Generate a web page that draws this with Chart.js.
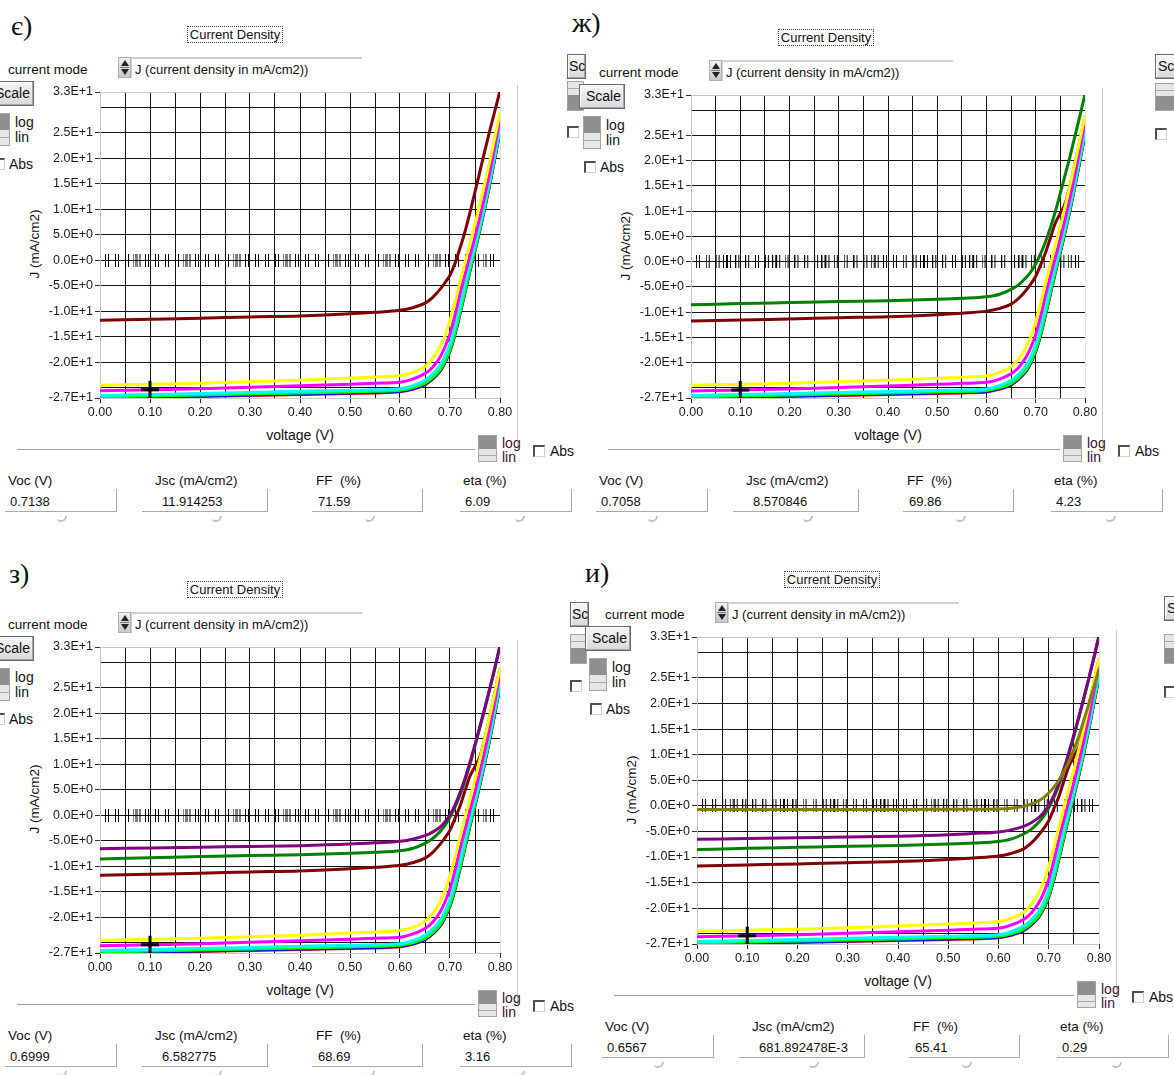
<!DOCTYPE html>
<html>
<head>
<meta charset="utf-8">
<script src="https://cdn.jsdelivr.net/npm/chart.js@4.4.1/dist/chart.umd.min.js"></script>
<style>
  html, body { margin: 0; padding: 0; background: #fff; }
  #page { position: relative; width: 1174px; height: 1075px; overflow: hidden; background: #fff;
          font-family: "Liberation Sans", Arial, sans-serif; color: #111; }
  .a { position: absolute; white-space: nowrap; }
  .txt { font-size: 13px; line-height: 16px; }
  .letter { font-family: "Liberation Serif", "DejaVu Serif", serif; font-size: 28px; line-height: 30px; }
  .cd { border: 1px dotted #444; font-size: 13px; line-height: 15px; text-align: center; box-sizing: border-box; }
  .btn { background: linear-gradient(#f7f7f7, #d9d9d9); border: 1px solid #6a6a6a; box-sizing: border-box;
         box-shadow: inset -1px -1px 0 #a4a4a4, inset 1px 1px 0 #fff; font-size: 14px; line-height: 22px;
         overflow: hidden; padding: 0 3px; }
  .tog { border: 1px solid #a4a4a4; background: #e6e6e6; box-sizing: border-box; overflow: hidden; }
  .tog .up { position: absolute; left: 0; right: 0; top: 0; height: 52%; background: #8f8f8f; }
  .tog .dn { position: absolute; left: 0; right: 0; bottom: 0; height: 55%; background: #8f8f8f; }
  .tog .l1 { position: absolute; left: 0; right: 0; top: 74%; height: 1px; background: #a8a8a8; }
  .tog .l2 { position: absolute; left: 0; right: 0; top: 22%; height: 1px; background: #a8a8a8; }
  .chk { width: 12px; height: 12px; box-sizing: border-box; background: #fff;
         border-top: 2px solid #505050; border-left: 2px solid #505050;
         border-right: 1px solid #d0d0d0; border-bottom: 1px solid #d0d0d0; }
  .box { box-sizing: border-box; border-right: 1px solid #a9a9a9; border-bottom: 1px solid #a9a9a9; }
  .hl { height: 1px; background: #a4a4a4; }
  .vl { width: 1px; background: #cacaca; }
  .arr { width: 10px; height: 6px; box-sizing: border-box; border-bottom: 2px solid #c2c2c2;
         border-right: 2px solid #c2c2c2; border-radius: 0 0 7px 4px; }
  .spin { width: 13px; height: 21px; box-sizing: border-box; border: 1px solid #b0b0b0;
          background: linear-gradient(#f0f0f0, #c8c8c8); }
  .spin .u { position: absolute; left: 2px; top: 2px; width: 0; height: 0;
             border-left: 4px solid transparent; border-right: 4px solid transparent; border-bottom: 6px solid #222; }
  .spin .d { position: absolute; left: 2px; bottom: 2px; width: 0; height: 0;
             border-left: 4px solid transparent; border-right: 4px solid transparent; border-top: 6px solid #222; }
  .spin .m { position: absolute; left: 1px; right: 1px; top: 9px; height: 1px; background: #777; }
  .dd { box-sizing: border-box; border-top: 2px solid #d0d0d0; border-left: 1px solid #d0d0d0; height: 21px; }
</style>
</head>
<body>
<div id="page"></div>
<script>
// ---- data ----
const V = [0, 0.1, 0.2, 0.3, 0.4, 0.5, 0.55, 0.6, 0.625, 0.65, 0.665, 0.68, 0.69,
           0.70, 0.71, 0.72, 0.73, 0.74, 0.75, 0.76, 0.77, 0.78, 0.79, 0.80];

const J_YELLOW  = [-24.5, -24.3, -24.1, -23.8, -23.5, -23.1, -22.9, -22.6, -22.0, -20.8, -19.3, -17.0, -14.8,
                   -11.8, -8.2, -4.2, -0.4, 3.3, 7.1, 11.1, 15.3, 19.7, 24.3, 29.0];
const J_MAGENTA = [-25.6, -25.4, -25.2, -24.9, -24.6, -24.3, -24.1, -23.9, -23.3, -22.2, -21.0, -19.0, -17.0,
                   -14.4, -10.8, -6.6, -2.8, 0.9, 4.6, 8.6, 12.8, 17.4, 22.4, 27.8];
const J_CYAN    = [-26.5, -26.3, -26.1, -25.9, -25.7, -25.5, -25.4, -25.2, -24.6, -23.5, -22.3, -20.6, -18.8,
                   -16.4, -13.0, -9.0, -4.8, -0.8, 3.0, 7.0, 11.4, 16.0, 21.0, 26.2];
const J_GREEN   = [-26.8, -26.6, -26.4, -26.2, -26.0, -25.8, -25.7, -25.5, -25.0, -24.1, -23.0, -21.5, -19.8,
                   -17.5, -14.2, -10.2, -6.0, -1.8, 2.2, 6.3, 10.7, 15.4, 20.4, 25.5];
const J_BLUE    = [-27.0, -26.8, -26.6, -26.4, -26.2, -26.0, -25.9, -25.7, -25.2, -24.3, -23.2, -21.7, -20.0,
                   -17.7, -14.4, -10.4, -6.2, -2.0, 2.0, 6.1, 10.5, 15.2, 20.2, 25.3];
const J_RED     = [-27.0, -26.8, -26.7, -26.5, -26.3, -26.1, -26.0, -25.8, -25.3, -24.4, -23.3, -21.8, -20.1,
                   -17.8, -14.5, -10.5, -6.3, -2.1, 1.9, 6.0, 10.4, 15.1, 20.1, 25.2];
const J_BROWN_A = [-11.75, -11.55, -11.35, -11.1, -10.9, -10.5, -10.2, -9.8, -9.3, -8.4, -7.3, -5.7, -4.4,
                   -2.9, -0.6, 2.4, 5.6, 9.4, 13.4, 17.5, 21.6, 25.6, 29.4, 33.2];
const J_BROWN_B = [-11.75, -11.55, -11.35, -11.1, -10.9, -10.5, -10.2, -9.8, -9.3, -8.4, -7.3, -5.7, -4.4,
                   -2.9, -0.6, 1.8, 4.8, 7.7, 9.6, 11.6, 15.2, 19.6, 24.2, 28.8];
const J_DGREEN  = [-8.55, -8.3, -8.1, -7.9, -7.75, -7.45, -7.25, -6.95, -6.5, -5.5, -4.6, -3.2, -2.0,
                   -0.4, 1.6, 4.0, 6.8, 10.0, 13.6, 17.3, 21.0, 25.0, 29.0, 33.2];
const J_PURPLE  = [-6.55, -6.4, -6.25, -6.1, -5.95, -5.65, -5.4, -5.1, -4.7, -4.0, -3.3, -2.3, -1.3,
                   0.1, 2.0, 4.4, 7.2, 10.4, 13.9, 17.5, 21.2, 25.0, 29.0, 33.3];
const J_OLIVE   = [-0.7, -0.7, -0.7, -0.69, -0.69, -0.68, -0.66, -0.6, -0.45, -0.1, 0.35, 1.0, 1.6,
                   2.5, 3.6, 5.0, 6.7, 8.6, 11.0, 13.6, 16.8, 20.0, 23.3, 26.8];

// voltage points marked ("||") on the zero line
const MARK_V = [0.015, 0.035, 0.055, 0.07, 0.078, 0.095, 0.115, 0.135, 0.155, 0.17, 0.178, 0.195,
                0.215, 0.235, 0.255, 0.27, 0.278, 0.295, 0.315, 0.335, 0.355, 0.37, 0.378, 0.395,
                0.415, 0.435, 0.455, 0.47, 0.478, 0.495, 0.515, 0.535, 0.555, 0.57, 0.578, 0.595,
                0.615, 0.635, 0.655, 0.67, 0.678, 0.695, 0.715, 0.735, 0.755, 0.77, 0.785];
const CURSOR_V = 0.1;
const CURSOR_J = -25.4;

const X_TICKS = [0, 0.05, 0.1, 0.15, 0.2, 0.25, 0.3, 0.35, 0.4, 0.45, 0.5, 0.55, 0.6, 0.65, 0.7, 0.75, 0.8];
const Y_TICKS = [-27, -25, -20, -15, -10, -5, 0, 5, 10, 15, 20, 25, 30, 33];
const Y_HIDDEN = [-25, 30];

const FIELD_NAMES = ['Voc (V)', 'Jsc (mA/cm2)', 'FF&nbsp; (%)', 'eta (%)'];
const VALUES_E  = ['0.7138', '11.914253', '71.59', '6.09'];
const VALUES_ZH = ['0.7058', '8.570846', '69.86', '4.23'];
const VALUES_Z  = ['0.6999', '6.582775', '68.69', '3.16'];
const VALUES_I  = ['0.6567', '681.892478E-3', '65.41', '0.29'];

// ---- layout ----
const FONT = '"Liberation Sans", Arial, sans-serif';
const page = document.getElementById('page');

// small "||" symbol used for the voltage marks
const pairMark = document.createElement('canvas');
pairMark.width = 5; pairMark.height = 13;
(() => {
  const g = pairMark.getContext('2d');
  g.fillStyle = '#000';
  g.fillRect(0, 0, 1, 13);
  g.fillRect(3, 0, 1, 13);
})();

function put(cls, x, y, w, h, html) {
  const d = document.createElement('div');
  d.className = 'a ' + cls;
  d.style.left = x + 'px';
  d.style.top = y + 'px';
  if (w != null) d.style.width = w + 'px';
  if (h != null) d.style.height = h + 'px';
  if (html != null) d.innerHTML = html;
  page.appendChild(d);
  return d;
}
function txt(s, x, cy, size) {
  const d = put('txt', x, cy - 8, null, null, s);
  if (size) d.style.fontSize = size + 'px';
  return d;
}
function toggle(x, y, w, h, darkTop) {
  put('tog', x, y, w, h, darkTop ? '<div class="up"></div><div class="l1"></div>'
                                 : '<div class="l2"></div><div class="dn"></div>');
}

function series(data, color) {
  return { data: V.map((v, i) => ({ x: v, y: data[i] })), borderColor: color, borderWidth: 3,
           pointRadius: 0, cubicInterpolationMode: 'monotone', fill: false };
}

function buildPanel(p) {
  const { L, T, R, B } = p;
  const W = R - L, H = B - T;

  put('letter', p.lx, p.ly, null, null, p.letter);
  put('cd', L + 87, T - 64, 96, 17, 'Current Density');
  txt('current mode', L - 92, T - 20, 13.5);
  put('spin', L + 18, T - 33, 13, 21, '<div class="u"></div><div class="m"></div><div class="d"></div>');
  put('dd', L + 31, T - 33, 231, 21);
  txt('J (current density in mA/cm2))', L + 35, T - 20, 13);

  // hidden copies of the controls peeking out at the left / right
  (p.ghostLeft || []).forEach(g => {
    if (g.k === 'btn') { const b = put('btn', g.x, g.y, g.w, 25, 'Scale'); b.style.paddingLeft = '1px'; }
    if (g.k === 'tog') toggle(g.x, g.y, g.w, g.h, false);
    if (g.k === 'chk') put('chk', g.x, g.y);
  });

  const sb = put('btn', L - 112, T - 9, 46, 25, 'Scale');
  sb.style.textAlign = 'right';
  toggle(L - 108, T + 23, 18, 33, true);
  txt('log', L - 85, T + 32, 14);
  txt('lin', L - 85, T + 47, 14);
  put('chk', L - 107, T + 68);
  txt('Abs', L - 91, T + 74, 14);

  const yl = put('txt', L - 65 - 50, (T + B) / 2 - 8, 100, 16, 'J (mA/cm2)');
  yl.style.textAlign = 'center';
  yl.style.fontSize = '13.5px';
  yl.style.transform = 'rotate(-90deg)';

  const vt = put('txt', (L + R) / 2 - 60, B + 29, 120, 16, 'voltage (V)');
  vt.style.textAlign = 'center';
  vt.style.fontSize = '14px';

  put('hl', L - 83, B + 51, (R - 25) - (L - 83), 1);
  put('vl', R + 17, T - 5, 1, B + 51 - (T - 5));
  toggle(R - 22, B + 37, 19, 27, true);
  txt('log', R + 2, B + 45, 14).style.color = '#3c1030';
  txt('lin', R + 2, B + 59, 14).style.color = '#3c1030';
  put('chk', R + 33, B + 47);
  txt('Abs', R + 50, B + 53, 14);

  const lblX = [L - 92, L + 55, L + 216, L + 363];
  const boxX = [[L - 95, L + 17], [L + 42, L + 168], [L + 212, L + 323], [L + 360, L + 472]];
  const valX = [L - 90, L + 62, L + 218, L + 365];
  const arrX = [L - 38, L + 117, L + 270, L + 420];
  for (let i = 0; i < 4; i++) {
    txt(FIELD_NAMES[i], lblX[i], B + 83, 13.5);
    put('box', boxX[i][0], B + 91, boxX[i][1] - boxX[i][0], 23);
    txt(p.values[i], valX[i], B + 104, 13);
    put('arr', arrX[i] - 5, B + 118, null, null);
  }

  (p.ghostRight || []).forEach(g => {
    if (g.k === 'btn') { const b = put('btn', g.x, g.y, 30, 25, 'Scale'); b.style.paddingLeft = '2px'; }
    if (g.k === 'tog') toggle(g.x, g.y, 20, g.h, false);
    if (g.k === 'chk') put('chk', g.x, g.y);
  });

  // chart: the canvas is sized so the plot area lands on L..R, T..B
  const cw = W + 80, ch = H + 35;
  const wrap = put('', L - 60, T - 10, cw, ch);
  const canvas = document.createElement('canvas');
  canvas.width = cw; canvas.height = ch;
  canvas.style.width = cw + 'px'; canvas.style.height = ch + 'px';
  wrap.appendChild(canvas);

  const datasets = [
    { data: [{ x: CURSOR_V, y: CURSOR_J }], showLine: false, pointStyle: 'cross', pointRadius: 9,
      pointBorderWidth: 3, pointBorderColor: '#000', borderColor: '#000' },
    { data: [{ x: CURSOR_V, y: CURSOR_J }], showLine: false, pointStyle: 'circle', pointRadius: 2,
      pointBackgroundColor: '#ff00ff', pointBorderColor: '#ff00ff', pointBorderWidth: 1 },
    ...p.curves.map(c => series(c[0], c[1])),
    { data: MARK_V.map(v => ({ x: v, y: 0 })), showLine: false, pointStyle: pairMark,
      pointRadius: 6, borderColor: '#000' }
  ];

  new Chart(canvas.getContext('2d'), {
    type: 'line',
    data: { datasets },
    options: {
      responsive: false,
      animation: false,
      devicePixelRatio: 1,
      events: [],
      layout: { padding: { top: 10, right: 20, left: 0, bottom: 0 } },
      plugins: { legend: { display: false }, tooltip: { enabled: false } },
      scales: {
        x: {
          type: 'linear', min: 0, max: 0.8,
          afterBuildTicks: s => { s.ticks = X_TICKS.map(v => ({ value: v })); },
          afterFit: s => { s.height = 25; },
          ticks: {
            autoSkip: false, maxRotation: 0, padding: 2, color: '#1a1a1a',
            font: { family: FONT, size: 12.5 },
            callback: (v, i) => (i % 2 === 0 ? Number(v).toFixed(2) : '')
          },
          grid: {
            lineWidth: 1, tickLength: 5,
            color: ctx => (ctx.index === 0 ? '#c4c4c4' : ctx.index === X_TICKS.length - 1 ? '#e2e2e2' : '#141414'),
            tickColor: ctx => (ctx.index % 2 === 0 ? '#333' : 'rgba(0,0,0,0)')
          },
          border: { display: false }
        },
        y: {
          type: 'linear', min: -27, max: 33,
          afterBuildTicks: s => { s.ticks = Y_TICKS.map(v => ({ value: v })); },
          afterFit: s => { s.width = 60; },
          ticks: {
            autoSkip: false, padding: 2, color: '#1a1a1a',
            font: { family: FONT, size: 12.5 },
            callback: v => (Y_HIDDEN.includes(v) ? '' : Number(v).toExponential(1).toUpperCase())
          },
          grid: {
            lineWidth: 1, tickLength: 5,
            color: ctx => (ctx.tick && (ctx.tick.value === 33 || ctx.tick.value === -27) ? '#c8c8c8' : '#141414'),
            tickColor: ctx => (ctx.tick && Y_HIDDEN.includes(ctx.tick.value) ? 'rgba(0,0,0,0)' : '#333')
          },
          border: { display: true, color: '#c4c4c4' }
        }
      }
    }
  });
}

const C = {
  yellow: [J_YELLOW, '#ffff00'], magenta: [J_MAGENTA, '#ff00ff'], cyan: [J_CYAN, '#00ffff'],
  green: [J_GREEN, '#00ff00'], blue: [J_BLUE, '#0000ff'], red: [J_RED, '#ff0000'],
  brownA: [J_BROWN_A, '#800000'], brownB: [J_BROWN_B, '#800000'],
  dgreen: [J_DGREEN, '#008000'], purple: [J_PURPLE, '#800080'], olive: [J_OLIVE, '#808000']
};
const BRIGHT = [C.yellow, C.magenta, C.cyan, C.green, C.blue, C.red];

buildPanel({
  letter: 'є)', lx: 11, ly: 11, L: 100, T: 90, R: 500, B: 398, values: VALUES_E,
  curves: [...BRIGHT, C.brownA]
});
buildPanel({
  letter: 'ж)', lx: 572, ly: 8, L: 691, T: 93, R: 1085, B: 398, values: VALUES_ZH,
  curves: [C.dgreen, ...BRIGHT, C.brownB],
  ghostLeft: [{ k: 'btn', x: 567, y: 54, w: 19 }, { k: 'tog', x: 567, y: 81, w: 17, h: 30 }, { k: 'chk', x: 567, y: 126 }],
  ghostRight: [{ k: 'btn', x: 1155, y: 54 }, { k: 'tog', x: 1155, y: 83, h: 28 }, { k: 'chk', x: 1155, y: 128 }]
});
buildPanel({
  letter: 'з)', lx: 9, ly: 559, L: 100, T: 645, R: 500, B: 953, values: VALUES_Z,
  curves: [C.purple, C.dgreen, ...BRIGHT, C.brownB]
});
buildPanel({
  letter: 'и)', lx: 585, ly: 558, L: 697, T: 635, R: 1099, B: 944, values: VALUES_I,
  curves: [C.olive, C.purple, C.dgreen, ...BRIGHT, C.brownB],
  ghostLeft: [{ k: 'btn', x: 570, y: 602, w: 19 }, { k: 'tog', x: 570, y: 634, w: 17, h: 30 }, { k: 'chk', x: 570, y: 680 }],
  ghostRight: [{ k: 'btn', x: 1164, y: 596 }, { k: 'tog', x: 1164, y: 634, h: 30 }, { k: 'chk', x: 1164, y: 686 }]
});
</script>
</body>
</html>
